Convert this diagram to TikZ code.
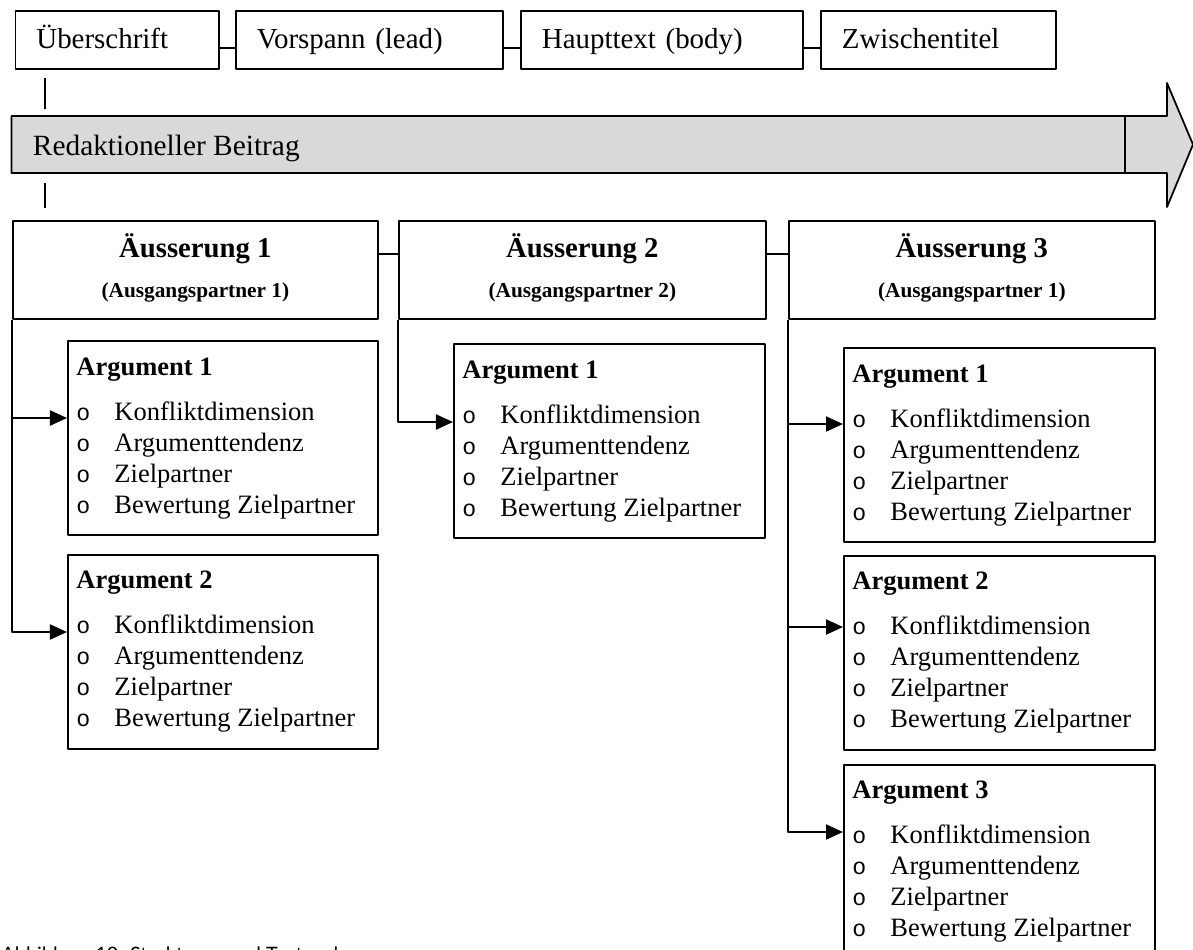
\documentclass[tikz,border=0pt]{standalone}
\usepackage{fontspec}
\setmainfont{Liberation Serif}
\newfontfamily\bulletfont{Liberation Mono}
\newfontfamily\capfont{Lato}
\usepackage{tikz}
\usetikzlibrary{arrows.meta,calc,positioning}
\definecolor{bandgray}{RGB}{217,217,217}
\newdimen\px
\px=0.4528pt
\newcommand{\bul}{{\fontsize{10.5}{12}\bulletfont o}}
\newcommand{\argtext}[1]{%
  \begin{tabular}[t]{@{}p{38\px}@{}l@{}}
    \multicolumn{2}{@{}l@{}}{\bfseries Argument #1}\\[6.4pt]
    \bul & Konfliktdimension\\
    \bul & Argumenttendenz\\
    \bul & Zielpartner\\
    \bul & Bewertung Zielpartner
  \end{tabular}}

\begin{document}
\begin{tikzpicture}[x=1\px,y=-1\px,line join=round,
    topbox/.style={draw,line width=0.8pt,anchor=north west,minimum height=58\px,inner xsep=21\px,inner ysep=0pt,
      align=left,text height=10.5pt,text depth=2.35pt,font=\fontsize{13.1}{15}\selectfont},
    aebox/.style={draw,line width=0.8pt,anchor=north west,minimum width=366\px,minimum height=98\px,inner sep=0pt},
    aetitle/.style={anchor=base,inner sep=0pt,font=\fontsize{13}{15}\selectfont\bfseries},
    aesub/.style={anchor=base,inner sep=0pt,font=\fontsize{9.65}{11}\selectfont\bfseries},
    argbox/.style={draw,line width=0.8pt,anchor=north west,minimum width=311\px,minimum height=194\px,inner sep=0pt},
    argtxt/.style={anchor=base west,inner sep=0pt,font=\fontsize{12}{14.04}\selectfont},
    conn/.style={line width=0.6pt},
    arr/.style={line width=0.9pt,-{Triangle[length=7.7pt,width=6.8pt]}}]
  \useasboundingbox (0,0) rectangle (1193,949);

  % top row
  \node[topbox,text width=161.5\px] (ub) at (14.5,10) {Überschrift};
  \node[topbox,text width=225\px] (vs) at (235,10) {Vorspann (lead)};
  \node[topbox,text width=240\px] (ht) at (520,10) {Haupttext (body)};
  \node[topbox,text width=193\px] (zt) at (820,10) {Zwischentitel};
  \draw[conn] ([yshift=-8\px]ub.east) -- ([yshift=-8\px]vs.west);
  \draw[conn] ([yshift=-8\px]vs.east) -- ([yshift=-8\px]ht.west);
  \draw[conn] ([yshift=-8\px]ht.east) -- ([yshift=-8\px]zt.west);
  \draw[conn] ($(ub.south west)+(30.5,8)$) -- ++(0,31);

  % arrow band
  \draw[line width=0.8pt,fill=bandgray] (11.5,116) -- (1167,116) -- (1167,83) -- (1193,144.5)
    -- (1167,207) -- (1167,173) -- (11.5,173) -- cycle;
  \draw[line width=0.5pt] (1125,116) -- (1125,173);
  \node[anchor=base west,inner sep=0pt,font=\fontsize{13.3}{15}\selectfont] (rb) at (32.5,155) {Redaktioneller Beitrag};

  % statements
  \node[aebox,minimum width=365\px] (ae1) at (12,220) {};
  \node[aebox,minimum width=367\px] (ae2) at (398,220) {};
  \node[aebox] (ae3) at (788,220) {};
  \node[aetitle] (ae1a) at ($(ae1.north)+(0,37)$) {Äusserung 1};
  \node[aesub] (ae1b) at ($(ae1.north)+(0,77)$) {(Ausgangspartner 1)};
  \node[aetitle] (ae2a) at ($(ae2.north)+(0,37)$) {Äusserung 2};
  \node[aesub] (ae2b) at ($(ae2.north)+(0,77)$) {(Ausgangspartner 2)};
  \node[aetitle] (ae3a) at ($(ae3.north)+(0,37)$) {Äusserung 3};
  \node[aesub] (ae3b) at ($(ae3.north)+(0,77)$) {(Ausgangspartner 1)};
  \draw[conn] ([yshift=16\px]ae1.east) -- ([yshift=16\px]ae2.west);
  \draw[conn] ([yshift=16\px]ae2.east) -- ([yshift=16\px]ae3.west);
  \draw[conn] ($(ae1.north west)+(33,-37)$) -- ++(0,25);

  % arguments
  \node[argbox,minimum width=310\px] (a11) at (67,340) {};
  \node[argbox,minimum width=310\px] (a12) at (67,554) {};
  \node[argbox] (a21) at (453,343) {};
  \node[argbox] (a31) at (843,347) {};
  \node[argbox] (a32) at (843,555) {};
  \node[argbox] (a33) at (843,764) {};
  \node[argtxt] (a11t) at ($(a11.north west)+(9,35)$) {\argtext{1}};
  \node[argtxt] (a12t) at ($(a12.north west)+(9,34)$) {\argtext{2}};
  \node[argtxt] (a21t) at ($(a21.north west)+(9,35)$) {\argtext{1}};
  \node[argtxt] (a31t) at ($(a31.north west)+(9,35)$) {\argtext{1}};
  \node[argtxt] (a32t) at ($(a32.north west)+(9,34)$) {\argtext{2}};
  \node[argtxt] (a33t) at ($(a33.north west)+(9,34)$) {\argtext{3}};

  \draw[arr] (ae1.south west) |- ($(a11.north west)+(0,78)$);
  \draw[arr] (ae1.south west) |- ($(a12.north west)+(0,78)$);
  \draw[arr] (ae2.south west) |- ($(a21.north west)+(0,79)$);
  \draw[arr] (ae3.south west) |- ($(a31.north west)+(0,77)$);
  \draw[arr] (ae3.south west) |- ($(a32.north west)+(0,72)$);
  \draw[arr] (ae3.south west) |- ($(a33.north west)+(0,68)$);

  % caption (cut off at the bottom edge)
  \node[anchor=base west,inner sep=0pt,font=\capfont\fontsize{9}{11}\selectfont] (cap) at (1,961)
    {Abbildung 10: Strukturen und Textanalyse};
\end{tikzpicture}
\end{document}
